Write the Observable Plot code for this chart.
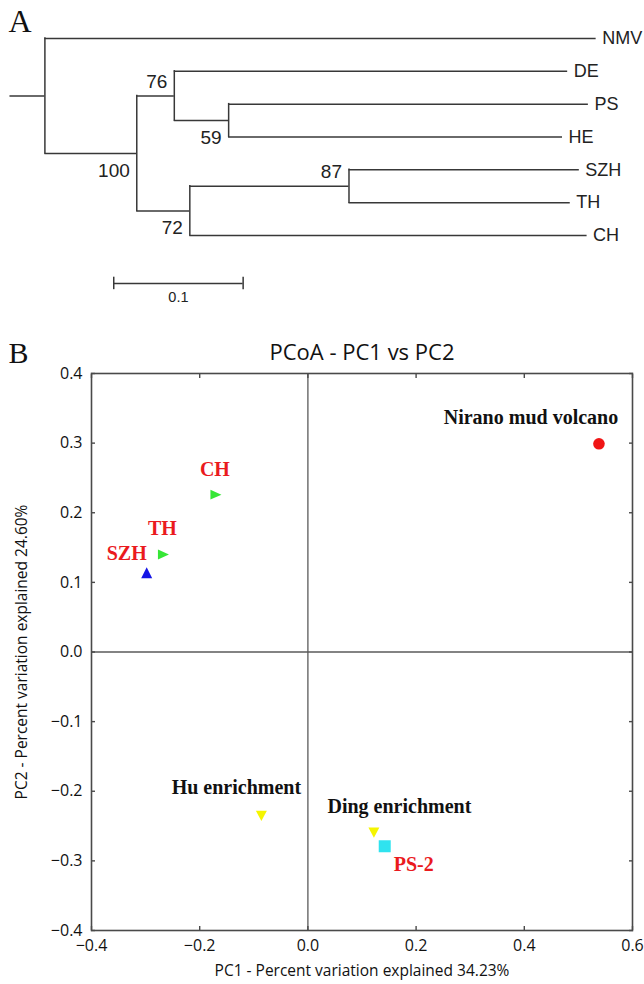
<!DOCTYPE html>
<html>
<head>
<meta charset="utf-8">
<script src="https://cdn.jsdelivr.net/npm/d3@7"></script>
<script src="https://cdn.jsdelivr.net/npm/@observablehq/plot@0.6"></script>
<style>
  html, body { margin: 0; padding: 0; background: #fff; }
  #chart { width: 644px; }
  #chart svg { display: block; }
</style>
</head>
<body>
<div id="chart"></div>
<script>
// ---------------- Panel A data (tree) ----------------
const treeNodes     = ["root", "NMV", "n100", "n76", "DE", "n59", "PS", "HE", "n72", "n87", "SZH", "TH", "CH"];
const treeParents   = [null, "root", "root", "n100", "n76", "n76", "n59", "n59", "n100", "n72", "n87", "n87", "n72"];
const branchLengths = [0.027, 0.426, 0.071, 0.029, 0.304, 0.042, 0.278, 0.258, 0.041, 0.123, 0.178, 0.171, 0.307];
const leafOrder     = ["NMV", "DE", "PS", "HE", "SZH", "TH", "CH"];
const bootstrapNodes  = ["n100", "n76", "n59", "n72", "n87"];
const bootstrapValues = [100, 76, 59, 72, 87];
const scaleBarLength  = 0.1;

// ---------------- Panel B data (PCoA) ----------------
const samples = ["Nirano mud volcano", "CH", "TH", "SZH", "Hu enrichment", "Ding enrichment", "PS-2"];
const pc1     = [0.538, -0.170, -0.267, -0.298, -0.086, 0.122, 0.142];
const pc2     = [0.299, 0.226, 0.140, 0.114, -0.235, -0.259, -0.279];
const xTicks  = [-0.4, -0.2, 0.0, 0.2, 0.4, 0.6];
const yTicks  = [-0.4, -0.3, -0.2, -0.1, 0.0, 0.1, 0.2, 0.3, 0.4];
const pcoaTitle = "PCoA - PC1 vs PC2";
const xLabel = "PC1 - Percent variation explained 34.23%";
const yLabel = "PC2 - Percent variation explained 24.60%";

// ---------------- fonts / styles ----------------
const serif  = "'Liberation Serif','Times New Roman',Times,serif";
const treeFont = "'Liberation Sans',Arial,sans-serif";
const sans   = "'Open Sans','DejaVu Sans',sans-serif";
const lineCol = "#383838";

// ---------------- tree layout from branch lengths ----------------
const nodes = treeNodes.map((name, i) => ({name, parent: treeParents[i], len: branchLengths[i], children: []}));
const nodeBy = new Map(nodes.map(n => [n.name, n]));
nodes.forEach(n => { if (n.parent) nodeBy.get(n.parent).children.push(n); });
(function place(n, depth) {
  n.depth = depth;
  if (!n.children.length) n.order = leafOrder.indexOf(n.name);
  else {
    n.children.forEach(c => place(c, depth + c.len));
    n.order = (d3.min(n.children, c => c.order) + d3.max(n.children, c => c.order)) / 2;
  }
})(nodeBy.get("root"), 0);

const horiz = nodes.map(n => ({x1: n.parent ? nodeBy.get(n.parent).depth : -n.len, x2: n.depth, y: n.order}));
const vert = nodes.filter(n => n.children.length).map(n => ({
  x: n.depth, y1: d3.min(n.children, c => c.order), y2: d3.max(n.children, c => c.order)
}));
const leaves = nodes.filter(n => !n.children.length);
const boot = bootstrapNodes.map((name, i) => ({x: nodeBy.get(name).depth, y: nodeBy.get(name).order, value: bootstrapValues[i], name}));
const bootAbove = new Set(["n76", "n87"]);

// layout of the scale bar (in tree units)
const scaleBarStart = 0.0532;
const scaleBarRow = 7.46;

const chartA = Plot.plot({
  width: 644, height: 310, margin: 0,
  style: {background: "#fff", fontFamily: treeFont},
  x: {type: "linear", domain: [0, 0.1], range: [44.4, 173.8], axis: null},
  y: {type: "linear", domain: [0, 6], range: [38, 235], axis: null},
  marks: [
    Plot.ruleY(horiz, {y: "y", x1: "x1", x2: "x2", stroke: lineCol, strokeWidth: 1.5}),
    Plot.ruleX(vert, {x: "x", y1: "y1", y2: "y2", stroke: lineCol, strokeWidth: 1.5, strokeLinecap: "square"}),
    Plot.text(leaves, {x: "depth", y: "order", text: "name", textAnchor: "start", dx: 6, fontSize: 18, fill: "#222", fontFamily: treeFont}),
    Plot.text(boot.filter(d => bootAbove.has(d.name)), {x: "x", y: "y", text: "value", textAnchor: "end", dx: -7, dy: -14, fontSize: 19, fill: "#222", fontFamily: treeFont}),
    Plot.text(boot.filter(d => !bootAbove.has(d.name)), {x: "x", y: "y", text: "value", textAnchor: "end", dx: -7, dy: 17, fontSize: 19, fill: "#222", fontFamily: treeFont}),
    // scale bar
    Plot.ruleY([scaleBarRow], {x1: scaleBarStart, x2: scaleBarStart + scaleBarLength, stroke: lineCol, strokeWidth: 1.5}),
    Plot.ruleX([scaleBarStart, scaleBarStart + scaleBarLength], {y1: scaleBarRow - 0.19, y2: scaleBarRow + 0.19, stroke: lineCol, strokeWidth: 1.5}),
    Plot.text([scaleBarLength], {x: d => scaleBarStart + d / 2, y: scaleBarRow, text: d => String(d), dy: 14, fontSize: 14.5, fill: "#222", fontFamily: treeFont}),
    // panel letter
    Plot.text(["A"], {frameAnchor: "top-left", dx: 8, dy: 8.5, lineAnchor: "top", fontSize: 32, fontFamily: serif, fill: "#111"})
  ]
});

// ---------------- Panel B ----------------
const triRight = {draw(ctx, size) { const r = Math.sqrt(size / Math.PI); ctx.moveTo(r, 0); ctx.lineTo(-r, -0.9 * r); ctx.lineTo(-r, 0.9 * r); ctx.closePath(); }};
const triUp    = {draw(ctx, size) { const r = Math.sqrt(size / Math.PI); ctx.moveTo(0, -r); ctx.lineTo(r, r); ctx.lineTo(-r, r); ctx.closePath(); }};
const triDown  = {draw(ctx, size) { const r = Math.sqrt(size / Math.PI); ctx.moveTo(0, r); ctx.lineTo(r, -0.9 * r); ctx.lineTo(-r, -0.9 * r); ctx.closePath(); }};
const sq       = {draw(ctx, size) { const r = Math.sqrt(size / Math.PI); ctx.rect(-r, -r, 2 * r, 2 * r); }};

const red = "#ea1a1e";
const markerStyle = {
  "Nirano mud volcano": {symbol: "circle", fill: "#f01515", r: 5.8, label: "#111", dx: -68, dy: -26.7},
  "CH":               {symbol: triRight, fill: "#36e636", r: 5.5, label: red, dx: -1, dy: -24.7},
  "TH":               {symbol: triRight, fill: "#36e636", r: 5.5, label: red, dx: -1, dy: -26.4},
  "SZH":              {symbol: triUp, fill: "#1414e6", r: 5.5, label: red, dx: -20, dy: -18.7},
  "Hu enrichment":    {symbol: triDown, fill: "#f5f500", r: 5.5, label: "#111", dx: -25, dy: -28.4},
  "Ding enrichment":  {symbol: triDown, fill: "#f5f500", r: 5.5, label: "#111", dx: 25.5, dy: -25.4},
  "PS-2":             {symbol: sq, fill: "#2fe3ef", r: 6, label: red, dx: 29, dy: 18.6}
};
const idx = samples.map((_, i) => i);
const fmt = d3.format(".1f");
const frameCol = "#4a4a4a";

const chartB = Plot.plot({
  width: 644, height: 674,
  marginTop: 63, marginBottom: 54, marginLeft: 91, marginRight: 12,
  style: {background: "#fff", fontFamily: sans},
  x: {domain: [-0.4, 0.6]},
  y: {domain: [-0.4, 0.4]},
  marks: [
    Plot.ruleX([0], {stroke: "#5a5a5a", strokeWidth: 1.3}),
    Plot.ruleY([0], {stroke: "#5a5a5a", strokeWidth: 1.3}),
    // inward ticks on all four sides
    Plot.axisX(xTicks, {anchor: "bottom", tickSize: 4, dy: -4, fill: "none", stroke: frameCol, strokeWidth: 1.4, label: null}),
    Plot.axisX(xTicks, {anchor: "top", tickSize: 4, dy: 4, fill: "none", stroke: frameCol, strokeWidth: 1.4, label: null}),
    Plot.axisY(yTicks, {anchor: "left", tickSize: 4, dx: 4, fill: "none", stroke: frameCol, strokeWidth: 1.4, label: null}),
    Plot.axisY(yTicks, {anchor: "right", tickSize: 4, dx: -4, fill: "none", stroke: frameCol, strokeWidth: 1.4, label: null}),
    // tick labels
    Plot.axisX(xTicks, {anchor: "bottom", tickSize: 0, tickPadding: 9, tickFormat: fmt, fontSize: 16, fill: "#111", label: null, fontFamily: sans}),
    Plot.axisY(yTicks, {anchor: "left", tickSize: 0, tickPadding: 9, tickFormat: fmt, fontSize: 16, fill: "#111", label: null, fontFamily: sans}),
    Plot.frame({stroke: frameCol, strokeWidth: 1.6}),
    // points
    ...idx.map(i => Plot.dot([i], {x: j => pc1[j], y: j => pc2[j], symbol: markerStyle[samples[i]].symbol, r: markerStyle[samples[i]].r, fill: markerStyle[samples[i]].fill, stroke: null})),
    // point labels
    ...idx.map(i => Plot.text([i], {x: j => pc1[j], y: j => pc2[j], text: j => samples[j], dx: markerStyle[samples[i]].dx, dy: markerStyle[samples[i]].dy, fill: markerStyle[samples[i]].label, fontSize: 20, fontWeight: "bold", fontFamily: serif})),
    // title and axis labels
    Plot.text([pcoaTitle], {frameAnchor: "top", lineAnchor: "middle", textAnchor: "middle", dy: -21, fontSize: 22, fill: "#111", fontFamily: sans}),
    Plot.text([xLabel], {frameAnchor: "bottom", lineAnchor: "middle", textAnchor: "middle", dy: 41, fontSize: 15.5, fill: "#111", fontFamily: sans}),
    Plot.text([yLabel], {frameAnchor: "left", lineAnchor: "middle", textAnchor: "middle", dx: -69, rotate: -90, fontSize: 15.5, fill: "#111", fontFamily: sans}),
    Plot.text(["B"], {frameAnchor: "top-left", dx: -83, dy: -31.5, lineAnchor: "top", fontSize: 30, fontFamily: serif, fill: "#111"})
  ]
});

const chart = document.getElementById("chart");
chart.append(chartA, chartB);
</script>
</body>
</html>
